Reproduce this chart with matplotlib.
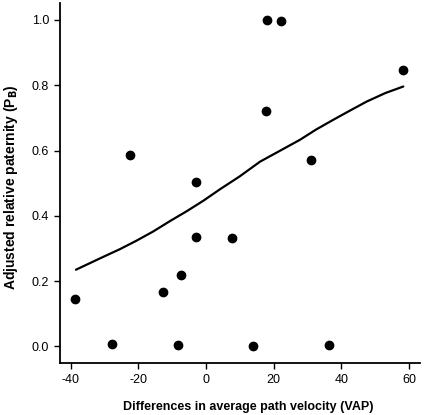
import matplotlib
matplotlib.use("Agg")
import matplotlib.pyplot as plt

plt.rcParams["font.family"] = ["Liberation Sans", "DejaVu Sans"]

# Observed points
vap_diff = [-38.6, -27.8, -22.5, -12.6, -8.3, -7.4, -2.9, -2.9,
            7.6, 13.8, 17.6, 18.0, 22.2, 31.1, 36.4, 58.2]
paternity = [0.144, 0.007, 0.587, 0.168, 0.003, 0.219, 0.335, 0.505,
             0.331, 0.000, 0.722, 1.000, 0.998, 0.571, 0.003, 0.847]

# Fitted curve
fit_x = [-38.4, -30.0, -25.4, -20.5, -15.6, -10.6, -5.7, -0.8, 4.1, 10.0,
         16.0, 22.0, 27.8, 32.5, 37.6, 42.5, 47.5, 53.0, 58.3]
fit_y = [0.235, 0.276, 0.298, 0.324, 0.352, 0.384, 0.414, 0.446, 0.481,
         0.521, 0.566, 0.600, 0.633, 0.664, 0.694, 0.722, 0.750, 0.776, 0.796]

x_ticks = [-40, -20, 0, 20, 40, 60]
y_ticks = [0.0, 0.2, 0.4, 0.6, 0.8, 1.0]

fig = plt.figure(figsize=(4.25, 4.15), dpi=100)
ax = fig.add_axes([0.142, 0.125, 0.846, 0.868])

ax.plot(fit_x, fit_y, color="black", linewidth=1.6,
        solid_joinstyle="round", solid_capstyle="round")
ax.scatter(vap_diff, paternity, s=36, color="black", zorder=3)

ax.set_xlim(-43, 63.2)
ax.set_ylim(-0.051, 1.052)
ax.set_xticks(x_ticks)
ax.set_xticklabels([str(t) for t in x_ticks])
ax.set_yticks(y_ticks)
ax.set_yticklabels([f"{t:.1f}" for t in y_ticks])

for side in ("top", "right"):
    ax.spines[side].set_visible(False)
for side in ("left", "bottom"):
    ax.spines[side].set_linewidth(1.3)

ax.tick_params(direction="out", length=4, width=1, labelsize=9, pad=4)

ax.set_xlabel("Differences in average path velocity (VAP)",
              fontsize=9, fontweight="bold")
ax.xaxis.set_label_coords(0.522, -0.105)
ax.set_ylabel(r"Adjusted relative paternity (P$_\mathbf{B}$)",
              fontsize=10, fontweight="bold")
ax.yaxis.set_label_coords(-0.112, 0.49)

fig.savefig("out.png", dpi=100)
